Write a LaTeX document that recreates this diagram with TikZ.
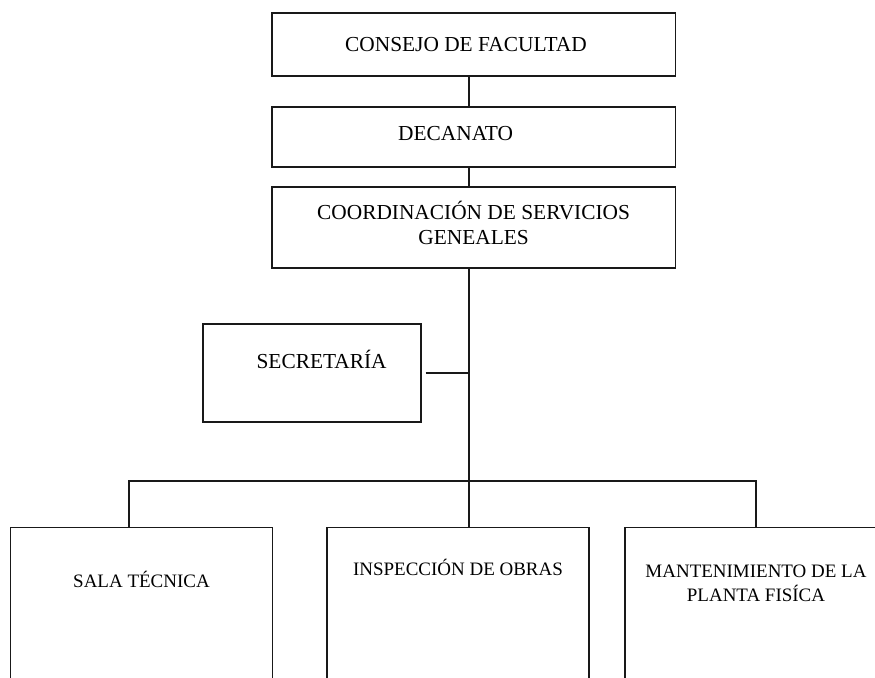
\documentclass[tikz,border=0pt]{standalone}
\usepackage{fontspec}
\setmainfont{Liberation Serif}
\begin{document}
\begin{tikzpicture}[
  unit/.style={rectangle, draw=black!90, line width=0.9pt, minimum width=10.08cm,
               align=center, font=\fontsize{15.2}{17.7}\selectfont},
  office/.style={rectangle, draw=black!90, line width=0.9pt, minimum width=6.55cm,
                 anchor=north, inner sep=0pt, text width=6.3cm, text depth=4.5cm,
                 align=flush center, font=\fontsize{13.5}{17}\selectfont},
  link/.style={line width=0.9pt, black!90}
]
\useasboundingbox (0,0) rectangle (21.875,16.95);
\clip (0,0) rectangle (21.875,16.95);

% Direction (top column)
\node[unit, minimum height=1.575cm] (consejo) at (11.84,15.84) {CONSEJO DE FACULTAD\hspace*{0.38cm}};
\node[unit, minimum height=1.5cm, text depth=0.2cm] (decanato) at (11.84,13.525) {DECANATO\hspace*{0.9cm}};
\node[unit, minimum height=2.025cm, text depth=0.22cm] (coord) at (11.84,11.26) {COORDINACIÓN DE SERVICIOS\\GENEALES};

% Staff unit
\node[unit, minimum width=5.45cm, minimum height=2.45cm, text depth=0.7cm] (secre) at (7.8,7.625) {\hspace*{0.48cm}SECRETARÍA};

% Offices (bottom row, cut by the page edge)
\node[office, text height=1.5cm] (sala) at (3.5375,3.775) {SALA TÉCNICA};
\node[office, text height=1.2cm] (inspeccion) at (11.45,3.775) {INSPECCIÓN DE OBRAS};
\node[office, text height=1.25cm] (mant) at (18.9,3.775) {MANTENIMIENTO DE LA\\PLANTA FISÍCA};

% Spine and bus
\coordinate (spine) at (11.725,4.925);
\coordinate (busL) at (3.225,4.925);
\coordinate (busR) at (18.9,4.925);

\draw[link] (consejo.south -| spine) -- (decanato.north -| spine);
\draw[link] (decanato.south -| spine) -- (coord.north -| spine);
\draw[link] (coord.south -| spine) -- (inspeccion.north -| spine);
\draw[link] ([xshift=0.1cm]secre.east) -- (secre.east -| spine);
\draw[link] (sala.north -| busL) -- (busL) -- (busR) -- (mant.north);
\end{tikzpicture}
\end{document}
